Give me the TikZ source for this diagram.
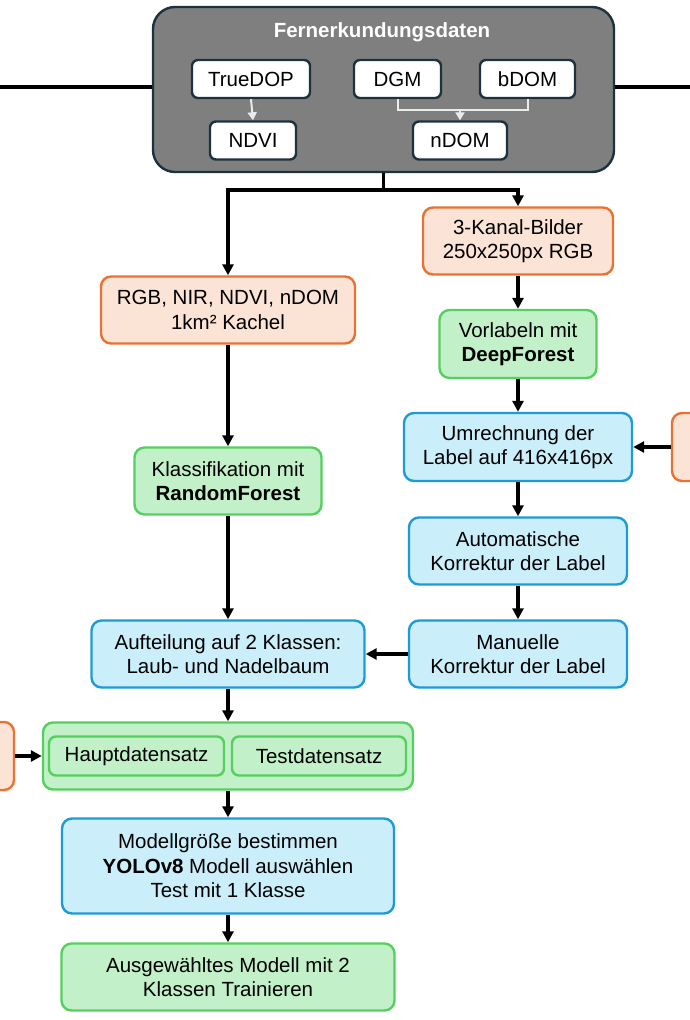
\documentclass[tikz,border=0pt]{standalone}
\usepackage{fontspec}
\setmainfont{Liberation Sans}
\usetikzlibrary{arrows.meta}
\definecolor{orangefill}{HTML}{FBE3D6}
\definecolor{orangeline}{HTML}{E97132}
\definecolor{greenfill}{HTML}{C2F0C8}
\definecolor{greenline}{HTML}{55CF5E}
\definecolor{bluefill}{HTML}{CBEEFB}
\definecolor{blueline}{HTML}{1E9BD7}
\definecolor{geofill}{HTML}{7F7F7F}
\definecolor{geoline}{HTML}{1E323D}
\tikzset{
    basebox/.style = {draw, rounded corners=10pt, line width=2.4pt, align=center,
        inner sep=0pt, font=\fontsize{20.5}{24.5}\selectfont},
    input/.style = {basebox, draw=orangeline, fill=orangefill},
    process/.style = {basebox, draw=blueline, fill=bluefill},
    model/.style = {basebox, draw=greenline, fill=greenfill},
    raster/.style = {basebox, rounded corners=6pt, draw=geoline, fill=white,
        minimum height=38pt},
    flow/.style = {-{Triangle[length=11pt, width=11pt]}, line width=3.2pt},
    inner/.style = {-{Triangle[length=8pt, width=9pt]}, line width=2pt, white!92!black}
}

\begin{document}
\begin{tikzpicture}[x=1pt, y=-1pt]
    \clip (0,0) rectangle (690,1020);

    % Fernerkundungsdaten
    \node[draw=geoline, fill=geofill, line width=2.4pt, rounded corners=22pt,
        minimum width=461pt, minimum height=165pt] (geo) at (383.5,89.5) {};
    \node[text=white, font=\fontsize{20.5}{24}\selectfont\bfseries] (geotitle) at (382,32) {Fernerkundungsdaten};
    \node[raster, minimum width=118pt] (truedop) at (251,79) {TrueDOP};
    \node[raster, minimum width=87pt] (dgm) at (397.5,79) {DGM};
    \node[raster, minimum width=95pt] (bdom) at (527.5,79) {bDOM};
    \node[raster, minimum width=86pt] (ndvi) at (253,140.5) {NDVI};
    \node[raster, minimum width=94pt] (ndom) at (460,140.5) {nDOM};
    \coordinate (merge) at (460,110);
    \draw[inner] (truedop.south) -- (ndvi.north);
    \draw[line width=2pt, white!92!black] (dgm.south) |- (merge) -| (bdom.south);
    \draw[inner] (merge) -- (ndom.north);

    \coordinate (inL) at (0,87);
    \coordinate (outR) at (690,87);
    \draw[line width=3.2pt] (inL) -- (inL -| geo.west);
    \draw[line width=3.2pt] (outR -| geo.east) -- (outR);

    % linke Spalte
    \node[input, minimum width=254pt, minimum height=67pt] (rgb) at (228,310) {RGB, NIR, NDVI, nDOM\\1km² Kachel};
    \node[model, minimum width=187pt, minimum height=67pt] (klass) at (228,481) {Klassifikation mit\\\textbf{RandomForest}};
    \node[process, minimum width=273pt, minimum height=67pt] (aufteilung) at (228,654) {Aufteilung auf 2 Klassen:\\Laub- und Nadelbaum};
    \node[model, minimum width=370pt, minimum height=67pt] (datensatz) at (228,756) {};
    \node[model, minimum width=175pt, minimum height=39pt, rounded corners=7pt] (haupt) at (136.5,756) {Hauptdatensatz};
    \node[model, minimum width=174pt, minimum height=39pt, rounded corners=7pt] (test) at (319,756) {Testdatensatz};
    \node[process, minimum width=332pt, minimum height=95pt] (groesse) at (228,866) {Modellgröße bestimmen\\\textbf{YOLOv8} Modell auswählen\\Test mit 1 Klasse};
    \node[model, minimum width=333pt, minimum height=67pt] (training) at (228,977) {Ausgewähltes Modell mit 2\\Klassen Trainieren};
    \node[input, minimum width=200pt, minimum height=68pt] (extraL) at (-86,756) {};

    % rechte Spalte
    \node[input, minimum width=190pt, minimum height=67pt] (kanal) at (518,241) {3-Kanal-Bilder\\250x250px RGB};
    \node[model, minimum width=157pt, minimum height=68pt] (vorlabel) at (518,344) {Vorlabeln mit\\\textbf{DeepForest}};
    \node[process, minimum width=228pt, minimum height=68pt] (umrechnung) at (518,447) {Umrechnung der\\Label auf 416x416px};
    \node[process, minimum width=218pt, minimum height=67pt] (autokorr) at (518,551) {Automatische\\Korrektur der Label};
    \node[process, minimum width=218pt, minimum height=67pt] (manukorr) at (518,654) {Manuelle\\Korrektur der Label};
    \node[input, minimum width=200pt, minimum height=68pt] (extraR) at (772,447) {};

    % Verbindungen
    \coordinate (split) at (383.5,190);
    \draw[line width=3.2pt] (geo.south) -- (split);
    \draw[flow] (split) -| (rgb.north);
    \draw[flow] (split) -| (kanal.north);
    \draw[flow] (rgb) -- (klass);
    \draw[flow] (klass) -- (aufteilung);
    \draw[flow] (aufteilung) -- (datensatz);
    \draw[flow] (datensatz) -- (groesse);
    \draw[flow] (groesse) -- (training);
    \draw[flow] (extraL) -- (datensatz);
    \draw[flow] (kanal) -- (vorlabel);
    \draw[flow] (vorlabel) -- (umrechnung);
    \draw[flow] (umrechnung) -- (autokorr);
    \draw[flow] (autokorr) -- (manukorr);
    \draw[flow] (manukorr) -- (aufteilung);
    \draw[flow] (extraR) -- (umrechnung);
\end{tikzpicture}
\end{document}
